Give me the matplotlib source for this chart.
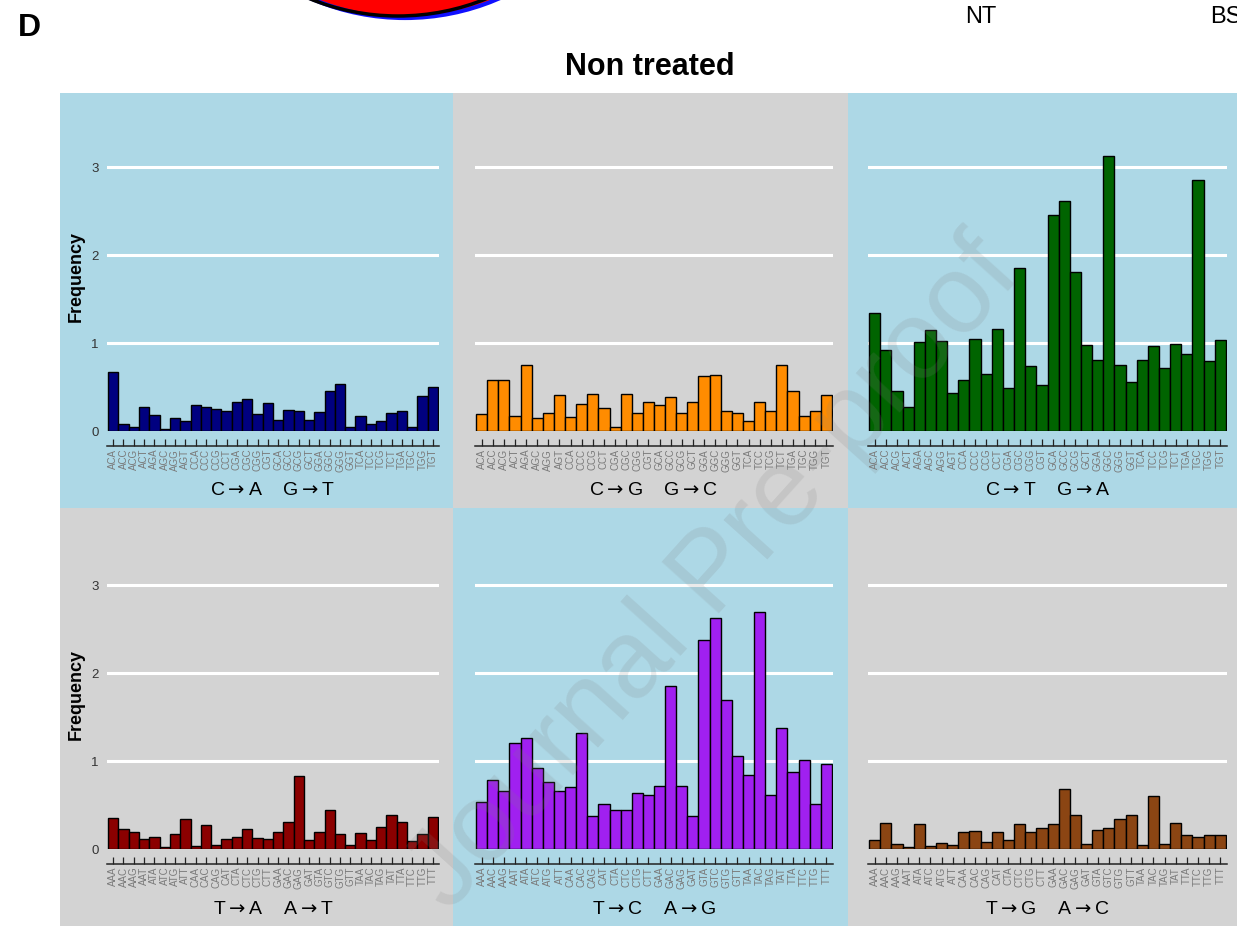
import matplotlib.pyplot as plt
from matplotlib.patches import Rectangle, Ellipse

plt.rcParams['font.family'] = ['Liberation Sans', 'DejaVu Sans']

# trinucleotide contexts (mutated base in the middle)
c_contexts = ['ACA', 'ACC', 'ACG', 'ACT', 'AGA', 'AGC', 'AGG', 'AGT',
              'CCA', 'CCC', 'CCG', 'CCT', 'CGA', 'CGC', 'CGG', 'CGT',
              'GCA', 'GCC', 'GCG', 'GCT', 'GGA', 'GGC', 'GGG', 'GGT',
              'TCA', 'TCC', 'TCG', 'TCT', 'TGA', 'TGC', 'TGG', 'TGT']
t_contexts = ['AAA', 'AAC', 'AAG', 'AAT', 'ATA', 'ATC', 'ATG', 'ATT',
              'CAA', 'CAC', 'CAG', 'CAT', 'CTA', 'CTC', 'CTG', 'CTT',
              'GAA', 'GAC', 'GAG', 'GAT', 'GTA', 'GTC', 'GTG', 'GTT',
              'TAA', 'TAC', 'TAG', 'TAT', 'TTA', 'TTC', 'TTG', 'TTT']

# mutation frequencies per context
c_to_a = [0.67, 0.08, 0.05, 0.27, 0.18, 0.02, 0.15, 0.11,
          0.29, 0.27, 0.25, 0.23, 0.33, 0.36, 0.19, 0.32,
          0.13, 0.24, 0.23, 0.12, 0.22, 0.46, 0.53, 0.05,
          0.17, 0.08, 0.11, 0.21, 0.23, 0.04, 0.40, 0.50]
c_to_g = [0.19, 0.58, 0.58, 0.17, 0.75, 0.15, 0.21, 0.41,
          0.16, 0.31, 0.42, 0.26, 0.05, 0.42, 0.20, 0.33,
          0.29, 0.39, 0.20, 0.33, 0.63, 0.64, 0.23, 0.21,
          0.11, 0.33, 0.23, 0.75, 0.46, 0.17, 0.23, 0.41]
c_to_t = [1.34, 0.92, 0.46, 0.27, 1.01, 1.15, 1.02, 0.43,
          0.58, 1.05, 0.65, 1.16, 0.49, 1.85, 0.74, 0.52,
          2.45, 2.61, 1.81, 0.98, 0.81, 3.12, 0.75, 0.56,
          0.81, 0.97, 0.72, 0.99, 0.88, 2.85, 0.80, 1.03]
t_to_a = [0.35, 0.23, 0.19, 0.11, 0.14, 0.02, 0.17, 0.34,
          0.03, 0.27, 0.04, 0.11, 0.14, 0.23, 0.13, 0.11,
          0.19, 0.31, 0.83, 0.10, 0.19, 0.44, 0.17, 0.05,
          0.18, 0.10, 0.25, 0.39, 0.31, 0.09, 0.17, 0.36]
t_to_c = [0.53, 0.78, 0.66, 1.21, 1.26, 0.92, 0.76, 0.66,
          0.70, 1.32, 0.38, 0.51, 0.44, 0.44, 0.64, 0.61,
          0.72, 1.85, 0.72, 0.38, 2.38, 2.62, 1.69, 1.06,
          0.84, 2.69, 0.61, 1.38, 0.88, 1.01, 0.51, 0.97]
t_to_g = [0.10, 0.30, 0.06, 0.02, 0.28, 0.03, 0.07, 0.04,
          0.19, 0.20, 0.08, 0.19, 0.10, 0.28, 0.19, 0.24,
          0.28, 0.68, 0.39, 0.06, 0.22, 0.24, 0.34, 0.39,
          0.05, 0.60, 0.06, 0.30, 0.16, 0.14, 0.16, 0.16]

series = [c_to_a, c_to_g, c_to_t, t_to_a, t_to_c, t_to_g]
contexts = [c_contexts] * 3 + [t_contexts] * 3
arrow = r'$\rightarrow$'
titles = [f'C{arrow}A    G{arrow}T', f'C{arrow}G    G{arrow}C', f'C{arrow}T    G{arrow}A',
          f'T{arrow}A    A{arrow}T', f'T{arrow}C    A{arrow}G', f'T{arrow}G    A{arrow}C']
bar_colors = ['#000080', '#FF8C00', '#006400', '#8B0000', '#A020F0', '#8B4513']
panel_bg = ['#ADD8E6', '#D3D3D3', '#ADD8E6', '#D3D3D3', '#ADD8E6', '#D3D3D3']

W, H = 1237, 926
fig = plt.figure(figsize=(W / 100, H / 100), dpi=100)


def fx(px):
    return px / W


def fy(py):
    return 1 - py / H


# panel layout in pixels
col_edges = [(60, 453), (453, 848), (848, 1245)]
plot_x = [(107, 439), (475, 833), (868, 1227)]
row_edges = [(93, 508), (508, 930)]
base_y = [431, 849]
unit = 88  # pixels per frequency unit

for i, vals in enumerate(series):
    r, c = divmod(i, 3)
    x0, x1 = col_edges[c]
    y0, y1 = row_edges[r]
    fig.add_artist(Rectangle((fx(x0), fy(y1)), fx(x1) - fx(x0), fy(y0) - fy(y1),
                             transform=fig.transFigure, facecolor=panel_bg[i],
                             edgecolor='none', zorder=-10))

    px0, px1 = plot_x[c]
    top = y0
    ax = fig.add_axes([fx(px0), fy(base_y[r]), fx(px1) - fx(px0), fy(top) - fy(base_y[r])])
    ax.set_facecolor('none')
    ax.set_xlim(-0.6, 31.6)
    ax.set_ylim(0, (base_y[r] - top) / unit)

    for g in [1, 2, 3]:
        ax.axhline(g, color='white', lw=2.2, zorder=0)

    ax.bar(range(32), vals, width=1.0, color=bar_colors[i], edgecolor='black',
           linewidth=1.0, zorder=2)

    for s in ['left', 'top', 'right']:
        ax.spines[s].set_visible(False)
    ax.spines['bottom'].set_position(('outward', 10.8))
    ax.spines['bottom'].set_color('#222222')
    ax.spines['bottom'].set_linewidth(1.1)

    ax.set_xticks(range(32))
    ax.set_xticklabels(contexts[i], rotation=90, fontsize=7, color='#7a7a7a')
    ax.tick_params(axis='x', direction='in', length=5, width=0.9, color='#222222', pad=2)

    if c == 0:
        ax.set_yticks([0, 1, 2, 3])
        ax.set_yticklabels(['0', '1', '2', '3'], fontsize=9.5, color='#333333')
        ax.tick_params(axis='y', length=0, pad=6)
        fig.text(fx(76), fy(277 + 418 * r), 'Frequency', rotation=90, fontsize=13,
                 fontweight='bold', ha='center', va='center')
    else:
        ax.set_yticks([])

    fig.text(fx((px0 + px1) / 2), fy(491 + 418 * r), titles[i], fontsize=14,
             ha='center', va='center')

fig.text(fx(650), fy(67), 'Non treated', fontsize=22, fontweight='bold',
         ha='center', va='center')
fig.text(fx(18), fy(28), 'D', fontsize=23, fontweight='bold', ha='left', va='center')
fig.text(fx(981), fy(17), 'NT', fontsize=17, ha='center', va='center')
fig.text(fx(1210), fy(17), 'BS', fontsize=17, ha='left', va='center')

# bottom of the Venn circles from the panel above
fig.add_artist(Ellipse((fx(405), fy(-218)), 2 * 236 / W, 2 * 236 / H,
                       transform=fig.transFigure, facecolor='red',
                       edgecolor='#1010ff', linewidth=3, zorder=-5))
fig.add_artist(Ellipse((fx(398), fy(-218)), 2 * 234 / W, 2 * 234 / H,
                       transform=fig.transFigure, facecolor='none',
                       edgecolor='black', linewidth=2.5, zorder=-4))

fig.text(fx(715), fy(575), 'Journal Pre-proof', rotation=48, fontsize=80,
         color='#808080', alpha=0.17, ha='center', va='center', zorder=10)

fig.savefig('out.png', dpi=100)
